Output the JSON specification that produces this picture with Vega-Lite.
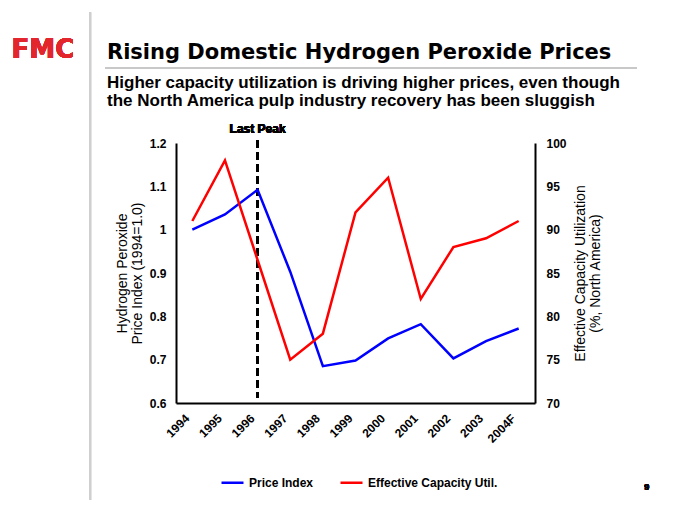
{
  "$schema": "https://vega.github.io/schema/vega-lite/v6.json",
  "width": 359,
  "height": 260,
  "autosize": {"type": "none"},
  "padding": {"left": 176, "top": 143, "right": 145, "bottom": 110},
  "background": "white",
  "config": {"font": "Liberation Sans", "view": {"stroke": null}},
  "title": {
    "text": "Rising Domestic Hydrogen Peroxide Prices",
    "subtitle": ["Higher capacity utilization is driving higher prices, even though", "the North America pulp industry recovery has been sluggish"],
    "anchor": "start",
    "frame": "group",
    "dx": -69,
    "dy": 102,
    "font": "DejaVu Sans",
    "fontSize": 21,
    "fontWeight": "bold",
    "color": "black",
    "subtitleFont": "Liberation Sans",
    "subtitleFontSize": 17,
    "subtitleFontWeight": "bold",
    "subtitleColor": "black",
    "subtitleLineHeight": 18,
    "subtitlePadding": 12
  },
  "data": {
    "values": [
      {"year": "1994", "price": 1.0, "util": 91},
      {"year": "1995", "price": 1.035, "util": 98},
      {"year": "1996", "price": 1.092, "util": 86.5},
      {"year": "1997", "price": 0.903, "util": 75},
      {"year": "1998", "price": 0.685, "util": 78},
      {"year": "1999", "price": 0.698, "util": 92},
      {"year": "2000", "price": 0.749, "util": 96},
      {"year": "2001", "price": 0.782, "util": 82},
      {"year": "2002", "price": 0.703, "util": 88},
      {"year": "2003", "price": 0.743, "util": 89},
      {"year": "2004F", "price": 0.772, "util": 91}
    ]
  },
  "layer": [
    {
      "layer": [
        {
          "mark": {"type": "rule", "color": "#cfcfcf", "strokeWidth": 1.5, "xOffset": -102},
          "encoding": {
            "x": {"datum": "1994", "type": "ordinal"},
            "y": {"datum": 1.502, "type": "quantitative", "scale": {"domain": [0.6, 1.2], "nice": false, "zero": false}},
            "y2": {"datum": 0.376}
          }
        },
        {
          "mark": {"type": "rule", "color": "#c8c8c8", "strokeWidth": 2, "xOffset": -87, "x2Offset": 118},
          "encoding": {
            "x": {"datum": "1994", "type": "ordinal"},
            "x2": {"datum": "2004F"},
            "y": {"datum": 1.373, "type": "quantitative", "scale": {"domain": [0.6, 1.2], "nice": false, "zero": false}}
          }
        },
        {
          "mark": {"type": "text", "text": "FMC", "font": "DejaVu Sans", "fontWeight": "bold", "fontSize": 26, "color": "#E3262B", "align": "right", "baseline": "alphabetic", "dx": -118, "dy": -85},
          "encoding": {
            "x": {"datum": "1994", "type": "ordinal"},
            "y": {"datum": 1.2, "type": "quantitative", "scale": {"domain": [0.6, 1.2], "nice": false, "zero": false}}
          }
        },
        {
          "mark": {"type": "text", "text": "9", "fontWeight": "bold", "fontSize": 9, "color": "black", "align": "center", "baseline": "middle", "dx": 128, "dy": 84},
          "encoding": {
            "x": {"datum": "2004F", "type": "ordinal"},
            "y": {"datum": 0.6, "type": "quantitative", "scale": {"domain": [0.6, 1.2], "nice": false, "zero": false}}
          }
        },
        {
          "mark": {"type": "rule", "color": "black", "strokeWidth": 2.5, "strokeDash": [8, 4]},
          "encoding": {
            "x": {"datum": "1996", "type": "ordinal"},
            "y": {"datum": 1.207, "type": "quantitative", "scale": {"domain": [0.6, 1.2], "nice": false, "zero": false}},
            "y2": {"datum": 0.6115}
          }
        },
        {
          "mark": {"type": "text", "text": "Last Peak", "fontWeight": "bold", "fontSize": 12, "color": "black", "align": "center", "baseline": "alphabetic", "dy": -10},
          "encoding": {
            "x": {"datum": "1996", "type": "ordinal"},
            "y": {"datum": 1.2, "type": "quantitative", "scale": {"domain": [0.6, 1.2], "nice": false, "zero": false}}
          }
        },
        {
          "mark": {"type": "line", "strokeWidth": 2.5},
          "encoding": {
            "x": {
              "field": "year",
              "type": "ordinal",
              "axis": {
                "title": null,
                "labelAngle": -45,
                "labelAlign": "right",
                "labelBaseline": "bottom",
                "labelFontSize": 12,
                "labelFontWeight": "bold",
                "labelColor": "black",
                "labelOverlap": false,
                "ticks": false,
                "grid": false,
                "domainColor": "black",
                "domainWidth": 2,
                "labelPadding": 18
              }
            },
            "y": {
              "field": "price",
              "type": "quantitative",
              "scale": {"domain": [0.6, 1.2], "nice": false, "zero": false},
              "axis": {
                "orient": "left",
                "values": [0.6, 0.7, 0.8, 0.9, 1, 1.1, 1.2],
                "format": "~g",
                "title": ["Hydrogen Peroxide", "Price Index (1994=1.0)"],
                "titleFontSize": 14,
                "titleFontWeight": "normal",
                "titleColor": "black",
                "titleLineHeight": 15,
                "titlePadding": 5,
                "labelFontSize": 12,
                "labelFontWeight": "bold",
                "labelColor": "black",
                "labelPadding": 10,
                "ticks": false,
                "grid": false,
                "domainColor": "black",
                "domainWidth": 2
              }
            },
            "color": {
              "datum": "Price Index",
              "type": "nominal",
              "scale": {"domain": ["Price Index", "Effective Capacity Util."], "range": ["#0000FF", "#FF0000"]},
              "legend": {
                "orient": "none",
                "legendX": 44,
                "legendY": 327,
                "direction": "horizontal",
                "title": null,
                "symbolType": "stroke",
                "symbolSize": 484,
                "symbolStrokeWidth": 2.5,
                "labelFontSize": 12,
                "labelFontWeight": "bold",
                "labelColor": "black",
                "labelOffset": 4,
                "columnPadding": 21
              }
            }
          }
        }
      ]
    },
    {
      "mark": {"type": "line", "strokeWidth": 2.5},
      "encoding": {
        "x": {"field": "year", "type": "ordinal"},
        "y": {
          "field": "util",
          "type": "quantitative",
          "scale": {"domain": [70, 100], "nice": false, "zero": false},
          "axis": {
            "orient": "right",
            "values": [70, 75, 80, 85, 90, 95, 100],
            "format": "d",
            "title": ["Effective Capacity Utilization", "(%, North America)"],
            "titleAngle": 270,
            "titleFontSize": 14,
            "titleFontWeight": "normal",
            "titleColor": "black",
            "titleLineHeight": 15,
            "titlePadding": 6,
            "labelFontSize": 12,
            "labelFontWeight": "bold",
            "labelColor": "black",
            "labelPadding": 11,
            "ticks": false,
            "grid": false,
            "domainColor": "black",
            "domainWidth": 2
          }
        },
        "color": {"datum": "Effective Capacity Util.", "type": "nominal"}
      }
    }
  ],
  "resolve": {"scale": {"y": "independent"}}
}
